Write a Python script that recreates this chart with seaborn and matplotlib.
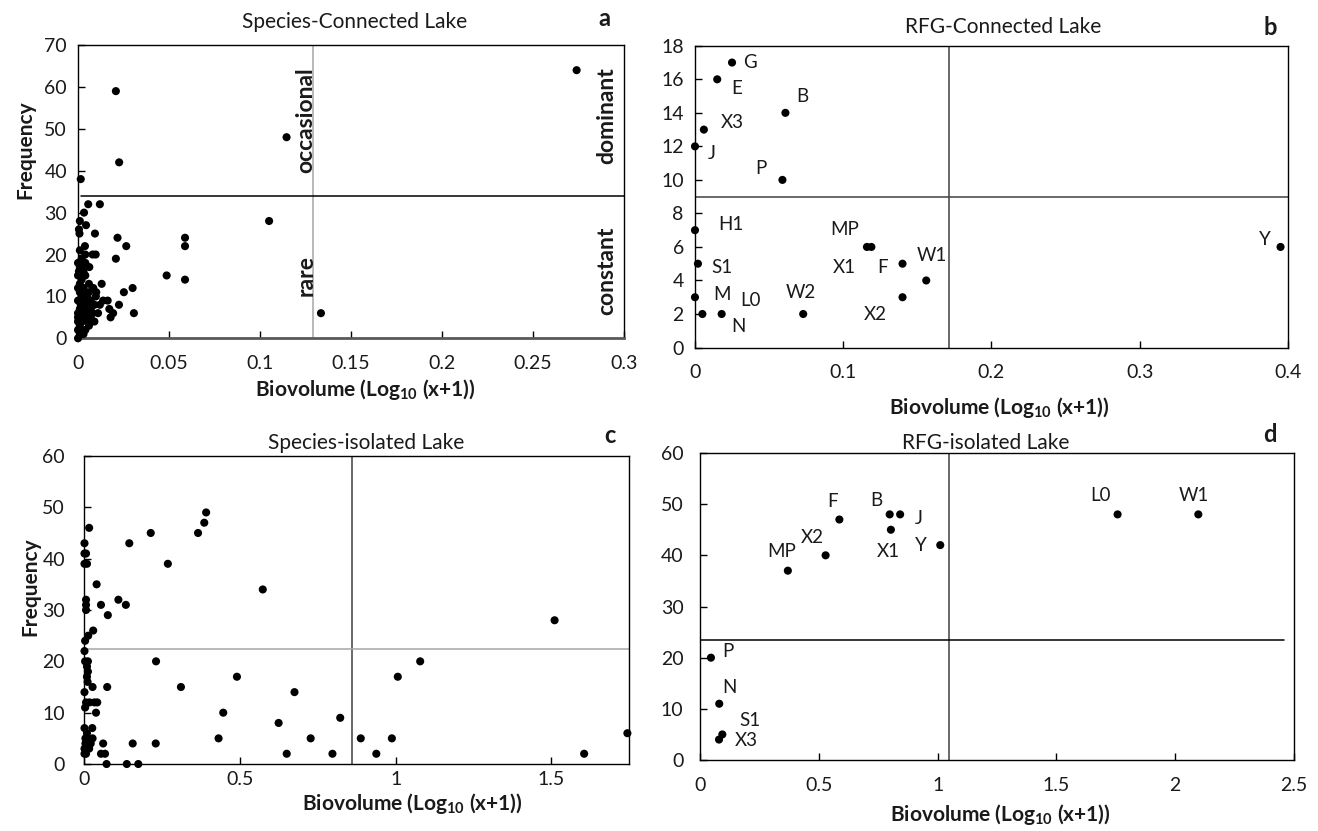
import matplotlib
matplotlib.use("Agg")
import matplotlib.pyplot as plt
import seaborn as sns
import pandas as pd

# ---------------- data ----------------
# (a) Species - Connected Lake
bio_a = [0.274, 0.0208, 0.1146, 0.0226, 0.0015, 0.0056, 0.012, 0.0033, 0.001, 0.105,
         0.0044, 0.0005, 0.0008, 0.0093, 0.0217, 0.0588, 0.0038, 0.0265, 0.0588, 0.001,
         0.008, 0.0097, 0.0208, 0.002, 0.004, 0.0062, 0.001, 0.0005, 0.002, 0.0487,
         0.0588, 0.013, 0.0084, 0.030, 0.0252, 0.0098, 0.0138, 0.0163, 0.0225, 0.0172,
         0.0193, 0.0307, 0.1335, 0.0179,
         0.0, 0.0, 0.001, 0.002, 0.0, 0.003, 0.005, 0.001, 0.003, 0.007,
         0.0015, 0.005, 0.0, 0.003, 0.007, 0.002, 0.005, 0.001, 0.004, 0.0,
         0.003, 0.006, 0.001, 0.002, 0.004, 0.003, 0.006, 0.009, 0.011, 0.012,
         0.0, 0.002, 0.004, 0.007, 0.010, 0.0, 0.003, 0.005, 0.008, 0.001,
         0.006, 0.009, 0.002, 0.0, 0.004, 0.0]
freq_a = [64, 59, 48, 42, 38, 32, 32, 30, 28, 28,
          27, 26, 25, 25, 24, 24, 22, 22, 22, 21,
          20, 20, 19, 19, 18, 17, 17, 16, 15, 15,
          14, 13, 12, 12, 11, 10, 9, 9, 8, 7,
          6, 6, 6, 5,
          0, 2, 3, 4, 5, 5, 6, 7, 7, 7,
          8, 8, 9, 9, 9, 10, 10, 11, 11, 12,
          12, 13, 13, 14, 15, 16, 3, 4, 6, 8,
          6, 6, 2, 5, 11, 4, 1, 4, 6, 1,
          11, 8, 17, 18, 20, 15]

# (b) RFG - Connected Lake
groups_b = ["G", "E", "B", "X3", "J", "P", "H1", "MP", "X1", "S1",
            "F", "W1", "M", "X2", "L0", "N", "W2", "Y"]
bio_b = [0.025, 0.015, 0.061, 0.006, 0.0, 0.059, 0.0, 0.116, 0.119, 0.002,
         0.14, 0.156, 0.0, 0.14, 0.018, 0.005, 0.073, 0.395]
freq_b = [17, 16, 14, 13, 12, 10, 7, 6, 6, 5,
          5, 4, 3, 3, 2, 2, 2, 6]

# (c) Species - isolated Lake
bio_c = [0.015, 0.0, 0.144, 0.213, 0.365, 0.385, 0.391, 0.0, 0.005, 0.0,
         0.008, 0.268, 0.039, 0.573, 0.005, 0.005, 0.053, 0.109, 0.133, 0.005,
         0.075, 1.511, 0.028, 0.012, 0.002, 0.0, 0.23, 1.079, 0.002, 0.011,
         0.008, 0.011, 0.008, 0.49, 1.007, 0.01, 0.026, 0.073, 0.31, 0.0,
         0.675, 0.005, 0.016, 0.032, 0.041, 0.002, 0.037, 0.446, 0.822, 0.624,
         0.0, 0.025, 0.003, 0.012, 0.026, 0.431, 0.727, 0.888, 0.988, 1.745,
         0.06, 0.155, 0.229, 0.003, 0.012, 0.02, 0.005, 0.053, 0.066, 0.65,
         0.797, 0.938, 1.606, 0.071, 0.136, 0.173, 0.0, 0.008, 0.015, 0.0]
freq_c = [46, 43, 43, 45, 45, 47, 49, 41, 41, 39,
          39, 39, 35, 34, 32, 31, 31, 32, 31, 30,
          29, 28, 26, 25, 24, 22, 20, 20, 20, 20,
          19, 18, 17, 17, 17, 16, 15, 15, 15, 14,
          14, 12, 12, 12, 12, 11, 10, 10, 9, 8,
          7, 7, 5, 5, 5, 5, 5, 5, 5, 6,
          4, 4, 4, 4, 4, 4, 2, 2, 2, 2,
          2, 2, 2, 0, 0, 0, 3, 6, 3, 2]

# (d) RFG - isolated Lake
groups_d = ["P", "N", "S1", "X3", "MP", "X2", "F", "B", "J", "X1", "Y", "L0", "W1"]
bio_d = [0.045, 0.08, 0.093, 0.079, 0.369, 0.528, 0.586, 0.798, 0.842, 0.803,
         1.011, 1.758, 2.098]
freq_d = [20, 11, 5, 4, 37, 40, 47, 48, 48, 45, 42, 48, 48]

# axis ticks / thresholds
xticks_a = [0, 0.05, 0.1, 0.15, 0.2, 0.25, 0.3]
xtl_a = ["0", "0.05", "0.1", "0.15", "0.2", "0.25", "0.3"]
yticks_a = [0, 10, 20, 30, 40, 50, 60, 70]
xticks_b = [0, 0.1, 0.2, 0.3, 0.4]
xtl_b = ["0", "0.1", "0.2", "0.3", "0.4"]
yticks_b = [0, 2, 4, 6, 8, 10, 12, 14, 16, 18]
xticks_c = [0, 0.5, 1, 1.5]
xtl_c = ["0", "0.5", "1", "1.5"]
yticks_c = [0, 10, 20, 30, 40, 50, 60]
xticks_d = [0, 0.5, 1, 1.5, 2, 2.5]
xtl_d = ["0", "0.5", "1", "1.5", "2", "2.5"]
yticks_d = [0, 10, 20, 30, 40, 50, 60]
thr_a = (0.129, 34)
thr_b = (0.1715, 9)
thr_c = (0.861, 22.4)
thr_d = (1.049, 23.5)

# label offsets (px) and alignment
off_b = {"G": (11, 0, "left"), "E": (14, -9, "left"), "B": (11, 16, "left"),
         "X3": (17, 7, "left"), "J": (13, -7, "left"), "P": (-16, 11, "right"),
         "H1": (23, 6, "left"), "MP": (-22, 17, "center"), "X1": (-15, -21, "right"),
         "S1": (13, -4, "left"), "F": (-15, -4, "right"), "W1": (-10, 25, "left"),
         "M": (18, 3, "left"), "X2": (-16, -17, "right"), "L0": (19, 13, "left"),
         "N": (29, -13, "left"), "W2": (-2, 21, "center"), "Y": (-10, 7, "right")}
off_d = {"P": (11, 6, "left"), "N": (3, 16, "left"), "S1": (17, 14, "left"),
         "X3": (16, -1, "left"), "MP": (-6, 19, "center"), "X2": (-13, 18, "center"),
         "F": (-7, 18, "center"), "B": (-13, 14, "center"), "J": (15, -4, "left"),
         "X1": (-3, -22, "center"), "Y": (-13, 0, "right"), "L0": (-17, 19, "center"),
         "W1": (-4, 19, "center")}

# ---------------- style ----------------
sns.set_theme(style="white")
plt.rcParams["font.family"] = ["Lato", "DejaVu Sans"]
plt.rcParams["mathtext.fontset"] = "custom"
plt.rcParams["mathtext.rm"] = "Lato"
plt.rcParams["mathtext.bf"] = "Lato:bold"

fig = plt.figure(figsize=(13.18, 8.31), dpi=100)
ax_a = fig.add_axes([0.0592, 0.5929, 0.4142, 0.3529])
ax_b = fig.add_axes([0.5273, 0.5818, 0.4499, 0.3631])
ax_c = fig.add_axes([0.0641, 0.0806, 0.4131, 0.3707])
ax_d = fig.add_axes([0.5313, 0.0854, 0.4503, 0.3695])

XLAB = r"Biovolume (Log$_{\mathbf{10}}$ (x+1))"
TXT = "#1a1a1a"


def base(ax, x, y, xt, xtl, yt, xlim, ylim, thr, vcol, hcol, ypad, xpad,
         hspan=(0.0, 1.0), s=34):
    df = pd.DataFrame({"x": x, "y": y})
    sns.scatterplot(data=df, x="x", y="y", ax=ax, color="black", s=s,
                    edgecolor="none", legend=False, clip_on=False, zorder=3)
    ax.set_xlim(*xlim)
    ax.set_ylim(*ylim)
    ax.set_xticks(xt)
    ax.set_xticklabels(xtl)
    ax.set_yticks(yt)
    ax.set_yticklabels([str(v) for v in yt])
    ax.tick_params(axis="both", direction="in", length=5, width=1, color="black",
                   labelsize=14, labelcolor=TXT, bottom=True, left=True)
    ax.tick_params(axis="y", pad=ypad)
    ax.tick_params(axis="x", pad=xpad)
    for sp in ax.spines.values():
        sp.set_color("black")
        sp.set_linewidth(1.0)
    ax.axvline(thr[0], color=vcol, lw=1.1, zorder=1)
    ax.axhline(thr[1], xmin=hspan[0], xmax=hspan[1], color=hcol, lw=1.1, zorder=1)
    ax.set_xlabel("")
    ax.set_ylabel("")


def xlabel(ax, xc, yc):
    ax.text(xc, yc, XLAB, transform=ax.transAxes, ha="center", va="center",
            fontsize=15, fontweight="bold", color=TXT)


def ylabel(ax, xc, yc):
    ax.text(xc, yc, "Frequency", transform=ax.transAxes, ha="center", va="center",
            rotation=90, fontsize=15, fontweight="bold", color=TXT)


def title(ax, xc, yc, t, letter, lx, ly):
    ax.text(xc, yc, t, transform=ax.transAxes, ha="center", va="center",
            fontsize=15, color=TXT)
    ax.text(lx, ly, letter, transform=ax.transAxes, ha="center", va="center",
            fontsize=17, fontweight="bold", color=TXT)


# (a)
base(ax_a, bio_a, freq_a, xticks_a, xtl_a, yticks_a, (0, 0.3), (0, 70), thr_a,
     "#a6a6a6", "black", 8, 12, hspan=(0.006, 1.0))
ax_a.spines["bottom"].set_color("#595959")
ax_a.spines["bottom"].set_linewidth(2)
for t, xx, yy in [("occasional", 0.418, 0.745), ("rare", 0.418, 0.215),
                  ("dominant", 0.968, 0.76), ("constant", 0.968, 0.23)]:
    ax_a.text(xx, yy, t, transform=ax_a.transAxes, rotation=90, ha="center",
              va="center", fontsize=16.5, fontweight="bold", color=TXT)
xlabel(ax_a, 0.527, -0.176)
ylabel(ax_a, -0.097, 0.642)
title(ax_a, 0.507, 1.078, "Species-Connected Lake", "a", 0.965, 1.09)

# (b)
base(ax_b, bio_b, freq_b, xticks_b, xtl_b, yticks_b, (0, 0.4), (0, 18), thr_b,
     "#404040", "#404040", 8, 12)
for g, xv, yv in zip(groups_b, bio_b, freq_b):
    dx, dy, ha = off_b[g]
    ax_b.annotate(g, (xv, yv), xytext=(dx * 0.72, dy * 0.72), textcoords="offset points",
                  ha=ha, va="center", fontsize=13.5, color=TXT)
xlabel(ax_b, 0.514, -0.2)
title(ax_b, 0.52, 1.062, "RFG-Connected Lake", "b", 0.97, 1.062)

# (c)
base(ax_c, bio_c, freq_c, xticks_c, xtl_c, yticks_c, (0, 1.75), (0, 60), thr_c,
     "#404040", "#a6a6a6", 14, 5)
xlabel(ax_c, 0.603, -0.128)
ylabel(ax_c, -0.1, 0.575)
title(ax_c, 0.517, 1.041, "Species-isolated Lake", "c", 0.965, 1.068)

# (d)
base(ax_d, bio_d, freq_d, xticks_d, xtl_d, yticks_d, (0, 2.5), (0, 60), thr_d,
     "#404040", "black", 12, 12, hspan=(0.0, 0.983))
for g, xv, yv in zip(groups_d, bio_d, freq_d):
    dx, dy, ha = off_d[g]
    ax_d.annotate(g, (xv, yv), xytext=(dx * 0.72, dy * 0.72), textcoords="offset points",
                  ha=ha, va="center", fontsize=13.5, color=TXT)
xlabel(ax_d, 0.505, -0.178)
title(ax_d, 0.481, 1.033, "RFG-isolated Lake", "d", 0.959, 1.059)

fig.savefig("out.png", dpi=100)
